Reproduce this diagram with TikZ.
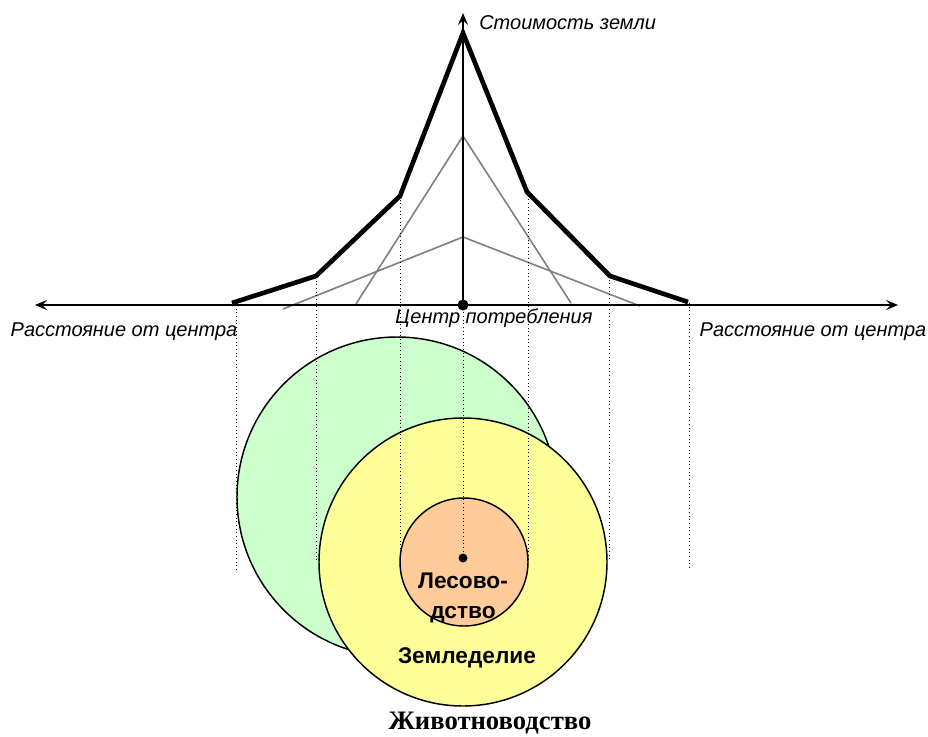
\documentclass[tikz,border=0pt]{standalone}
\usepackage{fontspec}
\setmainfont{Liberation Serif}
\setsansfont{Liberation Sans}
\usetikzlibrary{arrows.meta}
\definecolor{greenzone}{HTML}{CCFFCC}
\definecolor{yellowzone}{HTML}{FFFF99}
\definecolor{orangezone}{HTML}{FFCC99}
\definecolor{grayline}{HTML}{808080}
\begin{document}
\begin{tikzpicture}[x=0.75pt,y=-0.75pt,
  axisline/.style={line width=1.1pt,-{Stealth[length=9pt,width=7.5pt,inset=3.5pt]}},
  envelope/.style={line width=3.5pt,line join=miter},
  rentline/.style={line width=1.2pt,grayline},
  guide/.style={line width=0.75pt,dotted},
  zone/.style={line width=1.1pt,draw=black},
  itlabel/.style={font=\sffamily\itshape\fontsize{15}{17}\selectfont,inner sep=0pt},
  zonelabel/.style={font=\sffamily\bfseries\fontsize{17}{19}\selectfont,inner sep=0pt},
  serlabel/.style={font=\rmfamily\bfseries\fontsize{20}{22}\selectfont,inner sep=0pt}]
\useasboundingbox (0,0) rectangle (928,736);
\fill[white] (0,0) rectangle (928,736);
% zones
\draw[zone,fill=greenzone] (397,497) circle[radius=160];
\draw[zone,fill=yellowzone] (463,562) circle[radius=144];
\draw[zone,fill=orangezone] (464,562) circle[radius=64];
% coordinates
\coordinate (O) at (463,305);
\coordinate (L) at (35,305);
\coordinate (R) at (898,305);
\coordinate (T) at (463,13);
% gray rent lines
\draw[rentline] (356,304) -- (463,136) -- (571,303);
\draw[rentline] (283,309) -- (463,237) -- (640,306);
% guides
\draw[guide] (236,305) -- (236,570);
\draw[guide] (316,277) -- (316,560);
\draw[guide] (400,196) -- (400,560);
\draw[guide] (O) -- (463,558);
\draw[guide] (528,192) -- (528,560);
\draw[guide] (609,276) -- (609,560);
\draw[guide] (689,303) -- (689,568);
% axes
\draw[axisline] (O) -- (L);
\draw[axisline] (O) -- (R);
\draw[axisline] (O) -- (T);
% envelope
\draw[envelope] (232,303) -- (316,276) -- (400,196) -- (463,33) -- (527,192) -- (610,276) -- (688,302);
% dots
\fill (O) circle[radius=5.5];
\fill (463,558) circle[radius=4.5];
% labels
\node[itlabel,anchor=west] (ylab) at (479,23) {Стоимость земли};
\node[itlabel] (lxlab) at (124,332) {Расстояние от центра};
\node[itlabel] (rxlab) at (813,332) {Расстояние от центра};
\node[itlabel] (center) at (494,318) {Центр потребления};
\node[zonelabel,anchor=base] (les1) at (463,588) {Лесово-};
\node[zonelabel,anchor=base] (les2) at (463,618) {дство};
\node[zonelabel] (zem) at (467,658) {Земледелие};
\node[serlabel] (zhiv) at (490,723) {Животноводство};
\end{tikzpicture}
\end{document}
